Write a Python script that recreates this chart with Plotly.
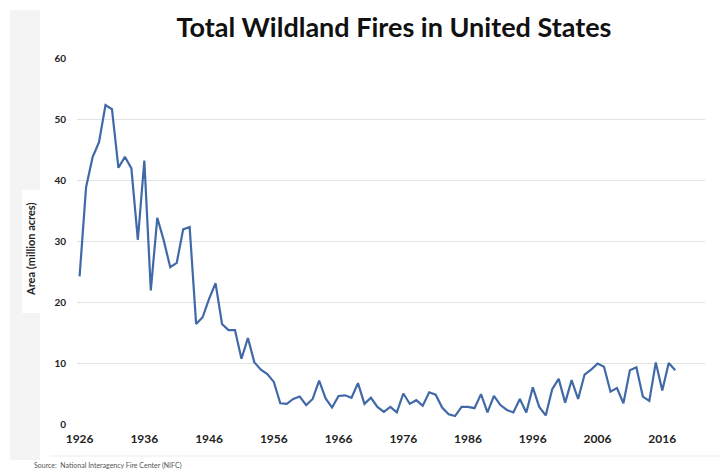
import plotly.graph_objects as go

years = list(range(1926, 2019))
acres = [
    24.2, 38.8, 43.7, 46.2, 52.3, 51.6, 42.0, 43.8, 41.9, 30.2,  # 1926-1935
    43.2, 21.9, 33.8, 30.1, 25.7, 26.4, 31.9, 32.3, 16.4, 17.5,  # 1936-1945
    20.5, 23.1, 16.4, 15.4, 15.4, 10.7, 14.1, 10.1, 8.9, 8.2,    # 1946-1955
    6.9, 3.4, 3.3, 4.1, 4.5, 3.1, 4.1, 7.1, 4.2, 2.7,            # 1956-1965
    4.6, 4.7, 4.3, 6.7, 3.3, 4.3, 2.8, 2.0, 2.8, 1.9,            # 1966-1975
    5.0, 3.3, 3.9, 3.0, 5.2, 4.8, 2.7, 1.6, 1.3, 2.8,            # 1976-1985
    2.8, 2.6, 4.9, 1.9, 4.6, 3.1, 2.3, 1.9, 4.1, 1.9,            # 1986-1995
    6.0, 2.8, 1.4, 5.7, 7.4, 3.5, 7.2, 4.1, 8.1, 8.9,            # 1996-2005
    9.9, 9.4, 5.3, 5.9, 3.4, 8.8, 9.3, 4.5, 3.8, 10.1,           # 2006-2015
    5.5, 10.0, 8.8,                                               # 2016-2018
]
x_ticks = list(range(1926, 2017, 10))
y_ticks = [0, 10, 20, 30, 40, 50, 60]

title_text = "Total Wildland Fires in United States"
y_title = "Area (million acres)"
source_text = "Source:  National Interagency Fire Center (NIFC)"

W, H = 720, 474
L, R, T, B = 77, 15, 58, 50
PW, PH = W - L - R, H - T - B

def px(xp):
    return (xp - L) / PW

def py(yp):
    return (H - B - yp) / PH

fig = go.Figure()
fig.add_trace(go.Scatter(
    x=years, y=acres, mode="lines",
    line=dict(color="#4169a8", width=2.2),
    hoverinfo="x+y", showlegend=False,
))

font_main = "Lato, 'Open Sans', sans-serif"

fig.update_layout(
    width=W, height=H,
    margin=dict(l=L, r=R, t=T, b=B),
    paper_bgcolor="white", plot_bgcolor="white",
    font=dict(family=font_main, color="#222"),
    title=dict(
        text=title_text, x=px(394), xref="paper", xanchor="center",
        y=1 - 28 / H, yref="container", yanchor="middle",
        font=dict(size=27, family=font_main, color="#111", weight="bold"),
    ),
    xaxis=dict(
        range=[1925.6, 2022.6], tickmode="array", tickvals=x_ticks,
        ticktext=[str(t) for t in x_ticks], showgrid=False, zeroline=False,
        showline=False, ticks="", ticklabelstandoff=6,
        tickfont=dict(size=12, family=font_main, color="#222", weight="bold"),
    ),
    yaxis=dict(
        range=[0, 60], tickmode="array", tickvals=y_ticks,
        showgrid=True, gridcolor="#e3e3e3", gridwidth=1, zeroline=False,
        showline=False, ticks="", ticklabelstandoff=10,
        tickfont=dict(size=10, family=font_main, color="#222", weight="bold"),
    ),
    shapes=[
        dict(type="rect", xref="paper", yref="paper",
             x0=px(10), x1=px(40), y0=py(460), y1=py(10),
             fillcolor="#f4f4f4", line=dict(width=0), layer="below"),
        dict(type="rect", xref="paper", yref="paper",
             x0=px(22), x1=px(40), y0=py(313), y1=py(190),
             fillcolor="white", line=dict(width=0), layer="below"),
        dict(type="line", xref="paper", yref="paper",
             x0=px(50), x1=px(720), y0=py(456), y1=py(456),
             line=dict(color="#ececec", width=1), layer="below"),
    ],
    annotations=[
        dict(text=y_title, xref="paper", yref="paper", x=px(30), y=py(250),
             textangle=-90, showarrow=False, xanchor="center", yanchor="middle",
             font=dict(size=11, family=font_main, color="#222", weight="bold")),
        dict(text=source_text, xref="paper", yref="paper", x=px(32), y=py(466),
             showarrow=False, xanchor="left", yanchor="middle",
             font=dict(size=7, family=font_main, color="#555")),
    ],
)

fig.write_html("out.html")
